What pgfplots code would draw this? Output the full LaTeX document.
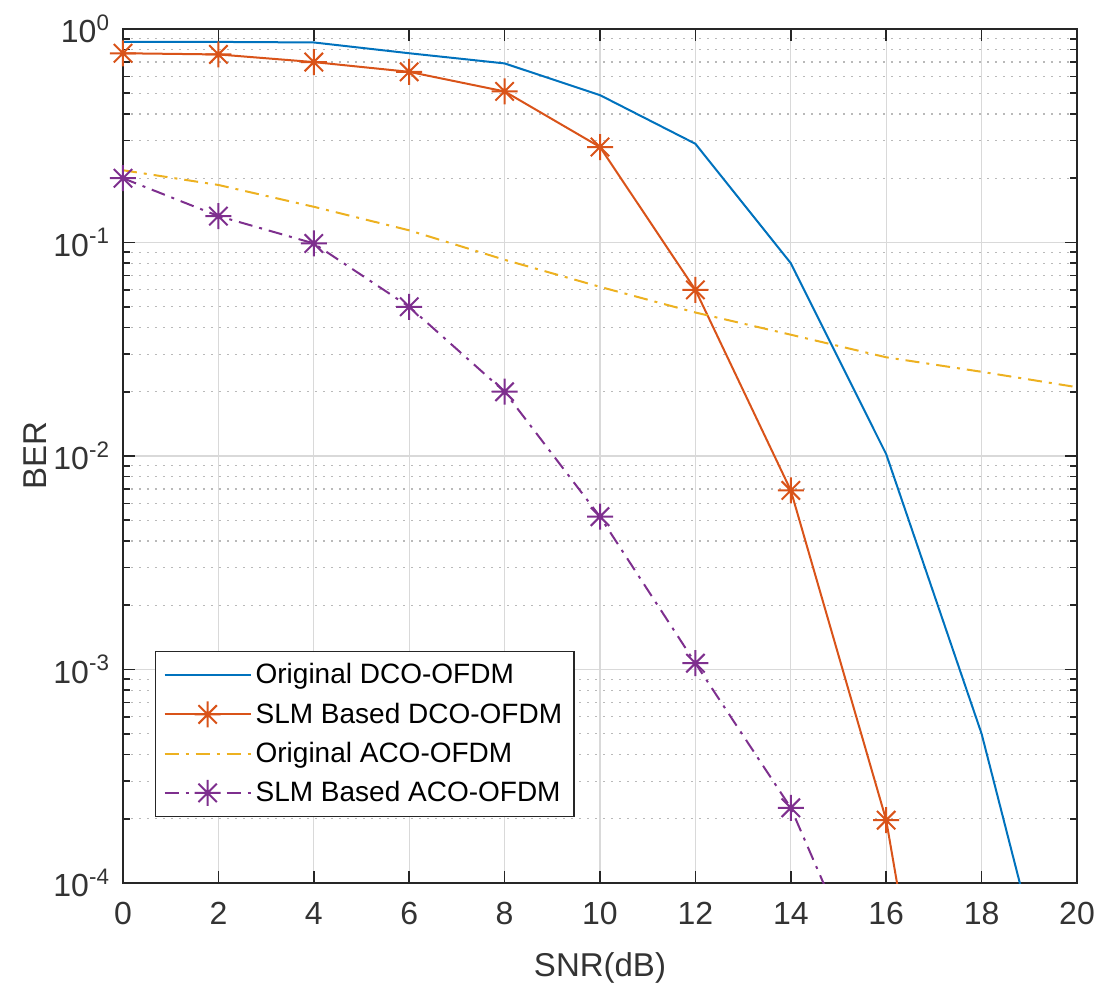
\documentclass[border=0pt]{standalone}
\usepackage{fontspec}
\setmainfont{Liberation Sans}
\usepackage{pgfplots}
\pgfplotsset{compat=1.18}
\definecolor{mblue}{rgb}{0,0.447,0.741}
\definecolor{morange}{rgb}{0.85,0.325,0.098}
\definecolor{myellow}{rgb}{0.929,0.694,0.125}
\definecolor{mpurple}{rgb}{0.494,0.184,0.556}
\pgfdeclareplotmark{mstar}{%
  \pgfpathmoveto{\pgfqpoint{-\pgfplotmarksize}{0pt}}%
  \pgfpathlineto{\pgfqpoint{\pgfplotmarksize}{0pt}}%
  \pgfpathmoveto{\pgfqpoint{0pt}{-\pgfplotmarksize}}%
  \pgfpathlineto{\pgfqpoint{0pt}{\pgfplotmarksize}}%
  \pgfpathmoveto{\pgfqpoint{-0.707\pgfplotmarksize}{-0.707\pgfplotmarksize}}%
  \pgfpathlineto{\pgfqpoint{0.707\pgfplotmarksize}{0.707\pgfplotmarksize}}%
  \pgfpathmoveto{\pgfqpoint{-0.707\pgfplotmarksize}{0.707\pgfplotmarksize}}%
  \pgfpathlineto{\pgfqpoint{0.707\pgfplotmarksize}{-0.707\pgfplotmarksize}}%
  \pgfusepathqstroke}
\tikzset{mdashdot/.style={dash pattern=on 7bp off 3.5bp on 1.5bp off 3.5bp}}
\begin{document}
\begin{tikzpicture}
\begin{axis}[
  scale only axis, width=477bp, height=427bp,
  xmin=0, xmax=20, ymin=1e-4, ymax=1,
  ymode=log,
  xtick={0,2,...,20},
  xticklabels={0,2,4,6,8,10,12,14,16,18,20},
  yticklabel={\pgfmathparse{int(round(\tick/2.302585093))}10\textsuperscript{\pgfmathresult}},
  tick label style={font=\fontsize{16bp}{18bp}\selectfont, text=black!80},
  xticklabel style={yshift=-6bp},
  yticklabel style={xshift=-3bp},
  tick align=inside,
  major tick length=6bp, minor tick length=3.5bp,
  tick style={black!85, line width=0.8bp},
  axis line style={black!85, line width=0.8bp},
  xmajorgrids, ymajorgrids, yminorgrids,
  major grid style={gray!30, line width=0.6bp},
  minor grid style={gray!55, line width=0.6bp, dash pattern=on 0.8bp off 3.2bp},
  xlabel={SNR(dB)}, ylabel={BER},
  label style={font=\fontsize{16.5bp}{19bp}\selectfont, text=black!80},
  xlabel style={at={(axis description cs:0.5,-0.1)}, anchor=center},
  ylabel style={at={(axis description cs:-0.092,0.5)}, anchor=center},
  legend style={at={(axis description cs:0.0335,0.077)}, anchor=south west,
    font=\fontsize{14bp}{16bp}\selectfont, draw=black!85, line width=0.7bp,
    fill=white, cells={anchor=west}, row sep=4bp, inner xsep=4bp, inner ysep=4bp},
  legend image code/.code={\draw[mark repeat=2,mark phase=2] plot coordinates {(0bp,0bp)(21.5bp,0bp)(43bp,0bp)};},
]
\addplot[mblue, line width=1bp] coordinates {
(0,0.87)(2,0.87)(4,0.865)(6,0.77)(8,0.69)(10,0.49)(12,0.29)(14,0.080)(16,0.0102)(18,5.0e-4)(20,9e-6)};
\addlegendentry{Original DCO-OFDM}
\addplot[morange, line width=1bp, mark=mstar, mark size=6.5bp, mark options={solid}] coordinates {
(0,0.77)(2,0.76)(4,0.70)(6,0.63)(8,0.51)(10,0.28)(12,0.060)(14,0.0069)(16,1.97e-4)(18,5e-7)};
\addlegendentry{SLM Based DCO-OFDM}
\addplot[myellow, line width=1bp, mdashdot] coordinates {
(0,0.218)(2,0.186)(4,0.147)(6,0.114)(8,0.083)(10,0.062)(12,0.047)(14,0.037)(16,0.029)(18,0.0248)(20,0.021)};
\addlegendentry{Original ACO-OFDM}
\addplot[mpurple, line width=1bp, mdashdot, mark=mstar, mark size=6.5bp, mark options={solid}] coordinates {
(0,0.20)(2,0.133)(4,0.099)(6,0.050)(8,0.020)(10,0.0052)(12,0.00107)(14,0.000225)(16,2.1e-5)};
\addlegendentry{SLM Based ACO-OFDM}
\end{axis}
\pgfresetboundingbox
\useasboundingbox ([shift={(-61.5bp,-54bp)}]current axis.south west) rectangle ([shift={(14bp,14.5bp)}]current axis.north east);
\end{tikzpicture}
\end{document}
